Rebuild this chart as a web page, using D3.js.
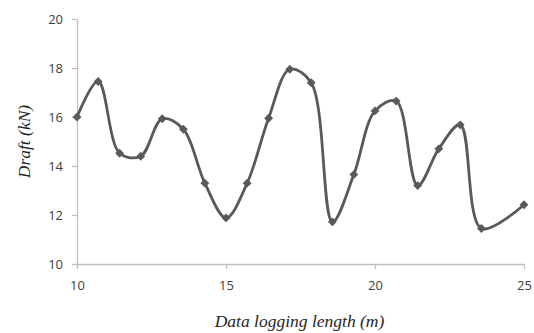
<!DOCTYPE html>
<html>
<head>
<meta charset="utf-8">
<script src="https://cdn.jsdelivr.net/npm/d3@7"></script>
<style>
  body { margin: 0; background: #fff; }
  svg { display: block; }
</style>
</head>
<body>
<div id="chart"></div>
<script>
// logging length (m) and measured draft (kN)
const lengths = [10, 10.71, 11.43, 12.14, 12.86, 13.57, 14.29, 15, 15.71, 16.43, 17.14,
                 17.86, 18.57, 19.29, 20, 20.71, 21.43, 22.14, 22.86, 23.57, 25];
const drafts  = [16.0, 17.45, 14.52, 14.4, 15.93, 15.5, 13.3, 11.88, 13.3, 15.95, 17.95,
                 17.4, 11.72, 13.65, 16.25, 16.65, 13.2, 14.7, 15.68, 11.45, 12.42];
const xTicks = [10, 15, 20, 25];
const yTicks = [10, 12, 14, 16, 18, 20];

const width = 534, height = 333;
const margin = {top: 19, right: 10, bottom: 69, left: 77};

const svg = d3.select("#chart").append("svg")
    .attr("width", width)
    .attr("height", height);

const x = d3.scaleLinear().domain([10, 25]).range([margin.left, width - margin.right]);
const y = d3.scaleLinear().domain([10, 20]).range([height - margin.bottom, margin.top]);

const tickFont = "'Open Sans', 'DejaVu Sans', sans-serif";
const titleFont = "'Liberation Serif', 'DejaVu Serif', serif";

// x axis
const xAxis = svg.append("g")
    .attr("transform", `translate(0,${y(10)})`)
    .call(d3.axisBottom(x).tickValues(xTicks).tickSize(5).tickPadding(12).tickSizeOuter(0));
// y axis
const yAxis = svg.append("g")
    .attr("transform", `translate(${x(10)},0)`)
    .call(d3.axisLeft(y).tickValues(yTicks).tickSize(5).tickPadding(9).tickSizeOuter(0));

[xAxis, yAxis].forEach(a => {
  a.select(".domain").attr("stroke", "#bfbfbf").attr("stroke-width", 1.3);
  a.selectAll(".tick line").attr("stroke", "#bfbfbf").attr("stroke-width", 1.3);
  a.selectAll(".tick text")
    .attr("fill", "#404040")
    .style("font-family", tickFont)
    .style("font-size", "13px");
});

// smoothed line
const line = d3.line()
    .x((d, i) => x(lengths[i]))
    .y(d => y(d))
    .curve(d3.curveCatmullRom.alpha(0.5));

svg.append("path")
    .datum(drafts)
    .attr("fill", "none")
    .attr("stroke", "#595959")
    .attr("stroke-width", 2.8)
    .attr("d", line);

// diamond markers
svg.selectAll(".pt")
    .data(drafts)
    .enter().append("path")
    .attr("class", "pt")
    .attr("d", d3.symbol().type(d3.symbolDiamond2).size(50))
    .attr("transform", (d, i) => `translate(${x(lengths[i])},${y(d)})`)
    .attr("fill", "#595959");

// axis titles
svg.append("text")
    .attr("x", (x(10) + x(25)) / 2 - 1)
    .attr("y", 327)
    .attr("text-anchor", "middle")
    .attr("fill", "#262626")
    .style("font-family", titleFont)
    .style("font-style", "italic")
    .style("font-size", "17.5px")
    .text("Data logging length (m)");

svg.append("text")
    .attr("transform", `translate(30,${(y(10) + y(20)) / 2}) rotate(-90)`)
    .attr("text-anchor", "middle")
    .attr("fill", "#262626")
    .style("font-family", titleFont)
    .style("font-style", "italic")
    .style("font-size", "17.5px")
    .text("Draft (kN)");
</script>
</body>
</html>
